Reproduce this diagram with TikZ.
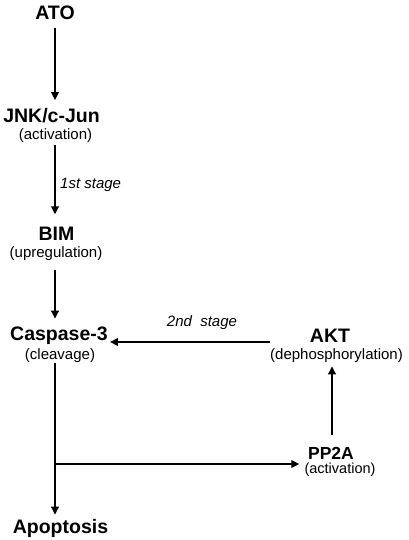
\documentclass[tikz,border=0pt]{standalone}
\usepackage{fontspec}
\setmainfont{Liberation Sans}
\usetikzlibrary{arrows.meta,calc}
\tikzset{
  mainlbl/.style={inner sep=0pt, anchor=base, font=\fontsize{19.5}{22}\selectfont\bfseries},
  sublbl/.style={inner sep=0pt, anchor=base, font=\fontsize{15}{17}\selectfont},
  stagelbl/.style={inner sep=0pt, anchor=base, font=\fontsize{15}{17}\selectfont\itshape},
  arr/.style={line width=2.4pt, -{Triangle[length=8pt,width=7.5pt]}},
}
\begin{document}
\begin{tikzpicture}[x=1pt,y=-1pt]
\useasboundingbox (0,0) rectangle (409,540);
\coordinate (col) at (55,0);
% nodes
\node[mainlbl] (ato) at (55,20) {ATO};
\node[mainlbl] (jnk) at (51.5,123) {JNK/c-Jun};
\node[sublbl] (jnksub) at (55.5,140) {(activation)};
\node[mainlbl] (bim) at (56.5,240) {BIM};
\node[sublbl] (bimsub) at (56,257) {(upregulation)};
\node[mainlbl] (casp) at (59,340) {Caspase-3};
\node[sublbl] (caspsub) at (60,359) {(cleavage)};
\node[mainlbl] (akt) at (330,342) {AKT};
\node[sublbl] (aktsub) at (336.5,359) {(dephosphorylation)};
\node[mainlbl, font=\fontsize{17.5}{20}\selectfont\bfseries] (pp2a) at (331,459.5) {PP2A};
\node[sublbl, font=\fontsize{14.5}{16}\selectfont] (pp2asub) at (340,473.5) {(activation)};
\node[mainlbl] (apo) at (60.5,533) {Apoptosis};
\node[stagelbl, anchor=base west] (st1) at (60,188) {1st stage};
\node[stagelbl] (st2) at (202,326) {2nd\ \ stage};
\coordinate (branch) at (55,464);
% connectors
\draw[arr, shorten <=8pt, shorten >=8.5pt] (ato.south -| col) -- (jnk.north -| col);
\draw[arr, shorten <=2pt, shorten >=12pt] (jnksub.south -| col) -- (bim.north -| col);
\draw[arr, shorten <=9.5pt, shorten >=7.5pt] (bimsub.south -| col) -- (casp.north -| col);
\draw[arr, shorten >=2pt] ([yshift=-2pt]casp.base east -| aktsub.west) -- ([yshift=-2pt]casp.base east);
\draw[arr, shorten <=12pt, shorten >=4pt] ([xshift=1pt]pp2a.north) -- ([xshift=1pt]pp2a.north |- aktsub.south);
\draw[arr, shorten <=1pt, shorten >=4pt] (caspsub.south -| col) -- (apo.north -| col);
\draw[arr, shorten >=5pt] (branch) -- (branch -| pp2asub.west);
\end{tikzpicture}
\end{document}
